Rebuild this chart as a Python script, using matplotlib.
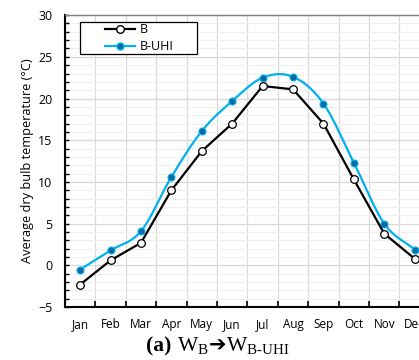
import matplotlib.pyplot as plt
from matplotlib.patches import Rectangle
from matplotlib.offsetbox import TextArea, HPacker, AnchoredOffsetbox
import numpy as np

months = ['Jan', 'Feb', 'Mar', 'Apr', 'May', 'Jun', 'Jul', 'Aug', 'Sep', 'Oct', 'Nov', 'Dec']
temp_b = [-2.3, 0.6, 2.7, 9.0, 13.7, 17.0, 21.5, 21.1, 17.0, 10.3, 3.8, 0.8]
temp_b_uhi = [-0.5, 1.8, 4.1, 10.6, 16.1, 19.7, 22.5, 22.6, 19.4, 12.3, 5.0, 1.9]


def smooth_curve(x, y, steps=20):
    # Catmull-Rom through the points, like a spreadsheet "smoothed line"
    x = np.asarray(x, float)
    y = np.asarray(y, float)
    px = np.concatenate([[2 * x[0] - x[1]], x, [2 * x[-1] - x[-2]]])
    py = np.concatenate([[2 * y[0] - y[1]], y, [2 * y[-1] - y[-2]]])
    t = np.linspace(0, 1, steps)
    xs, ys = [], []
    for i in range(1, len(px) - 2):
        for p, out in ((px, xs), (py, ys)):
            p0, p1, p2, p3 = p[i - 1], p[i], p[i + 1], p[i + 2]
            out.extend(0.5 * (2 * p1 + (-p0 + p2) * t
                              + (2 * p0 - 5 * p1 + 4 * p2 - p3) * t ** 2
                              + (-p0 + 3 * p1 - 3 * p2 + p3) * t ** 3))
    return np.array(xs), np.array(ys)


plt.rcParams['font.family'] = ['Open Sans', 'DejaVu Sans']
plt.rcParams['mathtext.fontset'] = 'custom'
plt.rcParams['mathtext.rm'] = 'Liberation Serif'
plt.rcParams['mathtext.bf'] = 'Liberation Serif:bold'

fig = plt.figure(figsize=(4.19, 3.6), dpi=100)
ax = fig.add_axes([0.155, 0.147, 0.871, 0.811])

x = np.arange(len(months))

# B-UHI: smoothed blue line with dark filled markers
sx, sy = smooth_curve(x, temp_b_uhi)
ax.plot(sx, sy, color='#00b0f0', lw=1.6, zorder=3)
ax.plot(x, temp_b_uhi, ls='none', marker='o', ms=5, mfc='#0b6aa2',
        mec='#00b0f0', mew=0.8, zorder=4)

# B: straight black line with open markers
ax.plot(x, temp_b, color='black', lw=1.6, marker='o', ms=5.5, mfc='white',
        mec='black', mew=0.9, zorder=5)

# legend handles
ax.plot([], [], color='black', lw=1.6, marker='o', ms=5.5, mfc='white',
        mec='black', label='B')
ax.plot([], [], color='#00b0f0', lw=1.6, marker='o', ms=5, mfc='#0b6aa2',
        mec='#00b0f0', label='B-UHI')
leg = ax.legend(loc='upper left', bbox_to_anchor=(0.11, 0.972), fontsize=9,
                frameon=False, borderpad=0, handlelength=2.4,
                handletextpad=0.4, labelspacing=0.3, borderaxespad=0)
leg.set_zorder(6)
ax.add_patch(Rectangle((0.041, 0.866), 0.321, 0.110, transform=ax.transAxes,
                       facecolor='white', edgecolor='black', lw=0.9,
                       zorder=5.5))

ax.set_xlim(-0.5, 11.5)
ax.set_ylim(-5, 30)

# category boundaries carry the ticks and gridlines, labels sit in between
ax.set_xticks(np.arange(-0.5, 12, 1))
ax.set_xticklabels([])
ax.set_xticks(x, minor=True)
ax.set_xticklabels(months, minor=True, fontsize=8.5)
ax.tick_params(axis='x', which='major', direction='in', length=4, width=1.2)
ax.tick_params(axis='x', which='minor', length=0, pad=8)

ax.set_yticks(np.arange(-5, 31, 5))
ax.set_yticks(np.arange(-5, 31, 1), minor=True)
ax.tick_params(axis='y', which='both', direction='in', length=3, width=1.0,
               labelsize=9, pad=9)

ax.grid(which='major', color='#d9d9d9', lw=0.9)
ax.grid(which='minor', axis='y', color='#efefef', lw=0.8)
ax.set_axisbelow(True)

for side in ('left', 'bottom'):
    ax.spines[side].set_linewidth(1.5)
ax.spines['top'].set_color('#7f7f7f')
ax.spines['top'].set_linewidth(1.0)
ax.spines['right'].set_visible(False)

ax.set_ylabel('Average dry bulb temperature (°C)', fontsize=9.2, labelpad=3)

# caption below the plot, pieced together so the arrow can use another font
serif = dict(family='Liberation Serif', size=15.5)
parts = [
    TextArea('(a) ', textprops=dict(serif, weight='bold')),
    TextArea(r'W$_{\mathrm{B}}$', textprops=serif),
    TextArea('\u2794', textprops=dict(family='DejaVu Sans', size=15,
                                      weight='bold')),
    TextArea(r'W$_{\mathrm{B\text{-}UHI}}$', textprops=serif),
]
caption = HPacker(children=parts, align='baseline', pad=0, sep=0)
box = AnchoredOffsetbox(loc='lower center', child=caption, frameon=False,
                        bbox_to_anchor=(0.52, 0.008),
                        bbox_transform=fig.transFigure, pad=0, borderpad=0)
fig.add_artist(box)

fig.savefig('out.png', dpi=100)
